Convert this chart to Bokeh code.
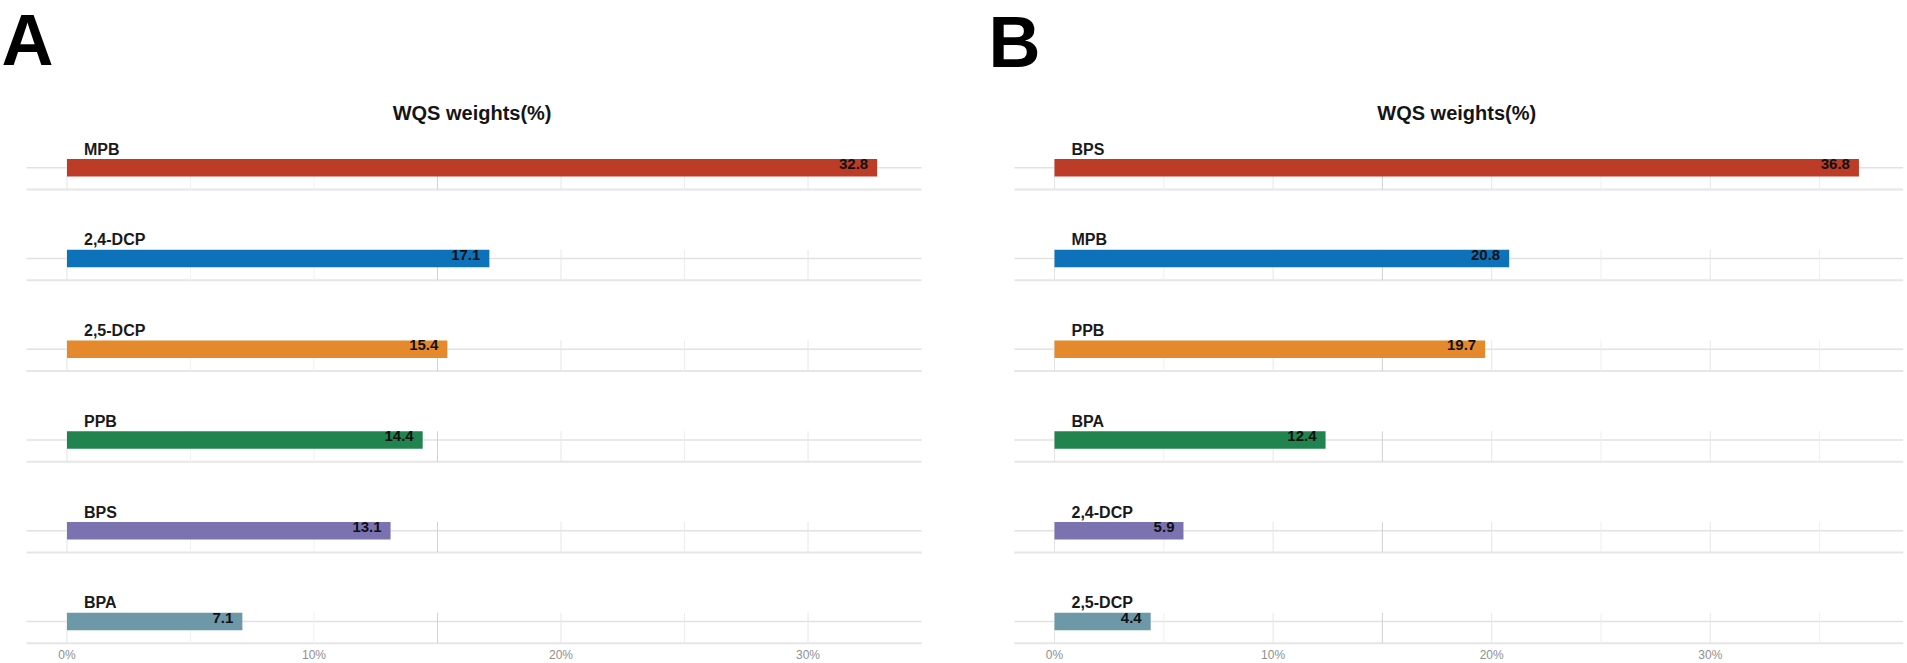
from bokeh.plotting import figure
from bokeh.layouts import row
from bokeh.models import FixedTicker, PrintfTickFormatter, Label, Range1d
from bokeh.core.properties import value
from bokeh.embed import file_html
from bokeh.resources import INLINE

# ---------------- data ----------------
chem_A = ["MPB", "2,4-DCP", "2,5-DCP", "PPB", "BPS", "BPA"]
weight_A = [32.8, 17.1, 15.4, 14.4, 13.1, 7.1]
chem_B = ["BPS", "MPB", "PPB", "BPA", "2,4-DCP", "2,5-DCP"]
weight_B = [36.8, 20.8, 19.7, 12.4, 5.9, 4.4]
rank_colors = ["#BD3C28", "#0E72BA", "#E48A2C", "#21844F", "#7A73B0", "#6C98A8"]
x_ticks = [0, 10, 20, 30]
title_text = "WQS weights(%)"
panel_letters = ["A", "B"]

# ---------------- layout constants (px) ----------------
FONT = "Liberation Sans"
ROW = 90.75         # vertical spacing between facet rows
BAR_H = 17.5        # bar thickness
BELOW = 21.75       # bar centre -> facet bottom line
FIRST_CENTER = 167.25  # y of first bar centre (from figure top)
FRAME_H = 645
FIG_H = 663


def make_panel(letter, names, vals, fig_w, zero_px, px_per, grid_x, grid_c,
               letter_px, letter_base):
    n = len(names)
    yc = [n - 1 - i for i in range(n)]
    y_end = (n - 1) + FIRST_CENTER / ROW
    y_start = y_end - FRAME_H / ROW
    xmax = max(vals)
    x_start = -zero_px / px_per
    x_end = x_start + fig_w / px_per
    line_l, line_r = -0.05 * xmax, 1.055 * xmax

    def page_y(py):
        return y_end - py / ROW

    def page_x(px):
        return x_start + px / px_per

    p = figure(frame_width=fig_w, frame_height=FRAME_H,
               x_range=Range1d(x_start, x_end), y_range=Range1d(y_start, y_end),
               y_axis_location=None, toolbar_location=None, output_backend="svg",
               min_border_left=0, min_border_right=0,
               min_border_top=0, min_border_bottom=FIG_H - FRAME_H)
    p.outline_line_color = None
    p.grid.visible = False
    p.background_fill_color = "white"
    p.border_fill_color = "white"

    ax = p.xaxis[0]
    ax.ticker = FixedTicker(ticks=x_ticks)
    ax.formatter = PrintfTickFormatter(format="%d%%")
    ax.axis_line_color = None
    ax.major_tick_line_color = None
    ax.minor_tick_line_color = None
    ax.major_tick_out = 0
    ax.major_tick_in = 0
    ax.major_label_standoff = 2
    ax.major_label_text_font = FONT
    ax.major_label_text_font_size = "12px"
    ax.major_label_text_color = "#8f8f8f"

    bh = BAR_H / ROW
    below = BELOW / ROW
    tops = [y + bh / 2 for y in yc]
    bots = [y - below for y in yc]

    # horizontal lines: through bar centre and at facet bottom
    p.segment(x0=[line_l] * n, x1=[line_r] * n, y0=yc, y1=yc,
              line_color="#e2e2e2", line_width=1.5)
    p.segment(x0=[line_l] * n, x1=[line_r] * n, y0=bots, y1=bots,
              line_color="#e6e6e6", line_width=2)

    # vertical grid pieces inside each facet
    gx, gy0, gy1, gc = [], [], [], []
    for t, b in zip(tops, bots):
        for x, c in zip(grid_x, grid_c):
            if line_l <= x <= line_r:
                gx.append(x); gy0.append(t); gy1.append(b); gc.append(c)
    p.segment(x0=gx, x1=gx, y0=gy0, y1=gy1, line_color=gc, line_width=1)

    # bars
    p.hbar(y=yc, left=0, right=vals, height=bh, fill_color=rank_colors[:n],
           line_color=None)

    # value labels
    p.text(x=vals, y=[y + 4 / ROW for y in yc], text=[f"{v:.1f}" for v in vals],
           text_font=value(FONT), text_font_size="15px", text_font_style="bold",
           text_align="right", text_baseline="middle", x_offset=-9,
           text_color="#111111")

    # facet strip labels
    p.text(x=[0] * n, y=[t + 10 / ROW for t in tops], text=names,
           text_font=value(FONT), text_font_size="16px", text_font_style="bold",
           text_align="left", text_baseline="alphabetic", x_offset=17,
           text_color="#1a1a1a")

    # title, centred on the facet width
    p.add_layout(Label(x=(line_l + 1.05 * xmax) / 2, y=page_y(112), text=title_text,
                       text_font=FONT, text_font_size="20px", text_font_style="bold",
                       text_align="center", text_baseline="middle",
                       text_color="#151515"))
    # panel letter
    p.add_layout(Label(x=page_x(letter_px), y=page_y(letter_base), text=letter,
                       text_font=FONT, text_font_size="72px", text_font_style="bold",
                       text_align="left", text_baseline="alphabetic",
                       text_color="#000000"))
    return p


grid_x = [0, 5, 10, 15, 20, 25, 30, 35]
grid_c_A = ["#e3e3e3", "#f1f1f1", "#f1f1f1", "#d2d2d2", "#e6e6e6", "#ececec", "#e6e6e6", "#f1f1f1"]
grid_c_B = ["#e3e3e3", "#efefef", "#e6e6e6", "#d2d2d2", "#e6e6e6", "#efefef", "#e6e6e6", "#efefef"]

# panel A: figure 0..988 px, 0% at 66.5 px, 24.7 px per %
pA = make_panel(panel_letters[0], chem_A, weight_A, 988, 66.5, 24.7,
                grid_x, grid_c_A, 1, 39)
# panel B: figure 988..1907 px, 0% at 66 px (page 1054), 21.86 px per %
pB = make_panel(panel_letters[1], chem_B, weight_B, 919, 66, 21.86,
                grid_x, grid_c_B, 0, 41)

layout = row(pA, pB)
open("out.html", "w").write(file_html(layout, INLINE))
